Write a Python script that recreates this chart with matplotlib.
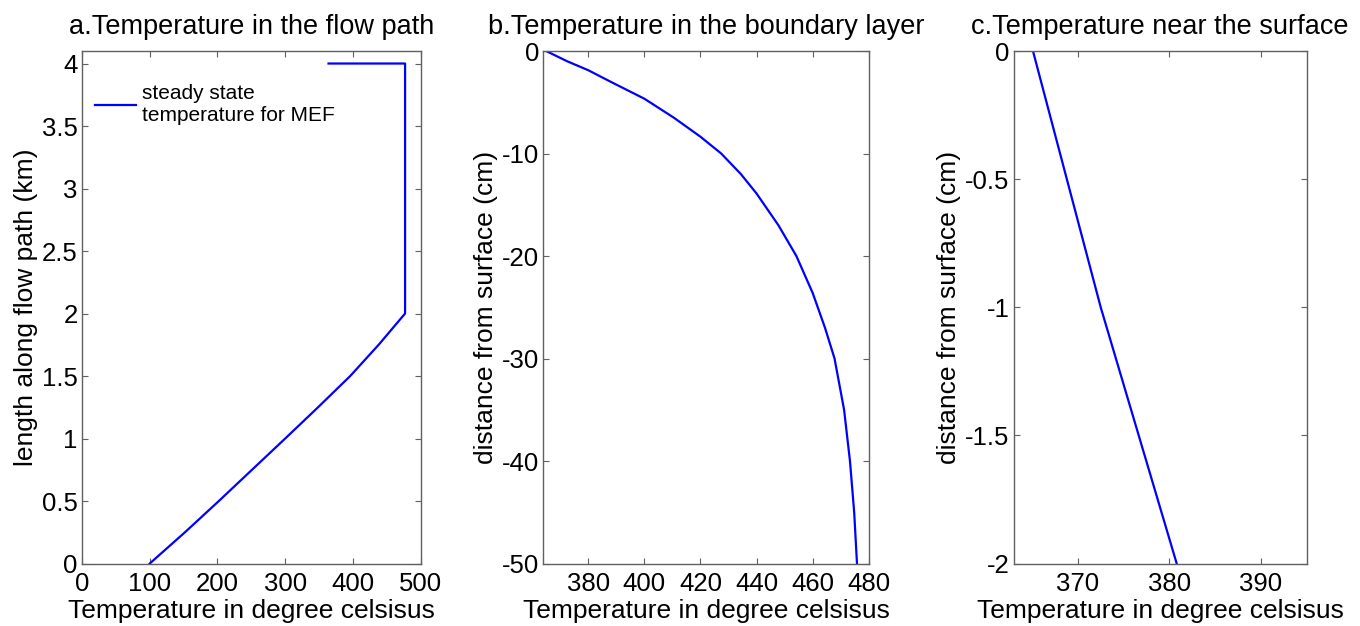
import matplotlib
matplotlib.use("Agg")
import matplotlib.pyplot as plt

# ---- data ----
length_a = [0, 0.25, 0.5, 0.75, 1.0, 1.25, 1.5, 1.75, 2.0, 4.0, 4.0]
temp_a = [100, 152, 202, 251, 300, 348.5, 396, 438, 477, 477, 364]

depth_b = [0, -1, -1.87, -3, -4.65, -6.5, -8.36, -10, -12, -13.9, -17, -20,
           -23.6, -27, -30, -35, -40, -45, -50]
temp_b = [365, 372.5, 380, 388, 400, 410.5, 420, 427.4, 434.4, 440, 447.8, 454.2,
          460, 464.4, 467.8, 471.2, 473.3, 474.8, 475.8]

depth_c = [0, -1, -2]
temp_c = [365.1, 372.5, 380.8]

xticks_a = [0, 100, 200, 300, 400, 500]
yticks_a = [0, 0.5, 1, 1.5, 2, 2.5, 3, 3.5, 4]
ylabels_a = ["0", "0.5", "1", "1.5", "2", "2.5", "3", "3.5", "4"]
xticks_b = [380, 400, 420, 440, 460, 480]
yticks_b = [0, -10, -20, -30, -40, -50]
xticks_c = [370, 380, 390]
yticks_c = [0, -0.5, -1, -1.5, -2]
ylabels_c = ["0", "-0.5", "-1", "-1.5", "-2"]

titles = ["a.Temperature in the flow path",
          "b.Temperature in the boundary layer",
          "c.Temperature near the surface"]
xlabel = "Temperature in degree celsisus"
ylabel_a = "length along flow path (km)"
ylabel_bc = "distance from surface (cm)"
legend_label = "steady state\ntemperature for MEF"

plt.rcParams['font.family'] = ['Liberation Sans', 'DejaVu Sans']
plt.rcParams['axes.unicode_minus'] = False

fig = plt.figure(figsize=(13.6, 6.26), dpi=100)
bottom = 0.0998
height = 0.8187
ax_a = fig.add_axes([0.0603, bottom, 0.2490, height])
ax_b = fig.add_axes([0.3995, bottom, 0.2393, height])
ax_c = fig.add_axes([0.7454, bottom, 0.2154, height])

FS = 18.5
LFS = 19
TFS = 19.5
LC = (0, 0, 1)
spine_c = '#606060'

def style(ax):
    for s in ax.spines.values():
        s.set_color(spine_c)
        s.set_linewidth(1.0)
    ax.tick_params(direction='in', length=4, width=0.8, color=spine_c,
                   top=True, right=True, labelsize=FS)
    ax.tick_params(axis='x', pad=6)
    ax.tick_params(axis='y', pad=3)

ax_a.plot(temp_a, length_a, color=LC, lw=1.6, label=legend_label)
ax_a.set_xlim(0, 500)
ax_a.set_ylim(0, 4.1)
ax_a.set_xticks(xticks_a)
ax_a.set_yticks(yticks_a)
ax_a.set_yticklabels(ylabels_a)
ax_a.set_xlabel(xlabel, fontsize=LFS, labelpad=2)
ax_a.set_ylabel(ylabel_a, fontsize=LFS, labelpad=3)
ax_a.set_title(titles[0], fontsize=TFS, pad=12)
ax_a.legend(loc='upper left', bbox_to_anchor=(0.0, 0.96), frameon=False,
            fontsize=15, handlelength=2.0, handletextpad=0.3,
            borderaxespad=0.2, labelspacing=0.2)
style(ax_a)

ax_b.plot(temp_b, depth_b, color=LC, lw=1.6)
ax_b.set_xlim(364, 480)
ax_b.set_ylim(-50, 0)
ax_b.set_xticks(xticks_b)
ax_b.set_yticks(yticks_b)
ax_b.set_xlabel(xlabel, fontsize=LFS, labelpad=2)
ax_b.set_ylabel(ylabel_bc, fontsize=LFS, labelpad=3)
ax_b.set_title(titles[1], fontsize=TFS, pad=12)
style(ax_b)

ax_c.plot(temp_c, depth_c, color=LC, lw=1.6)
ax_c.set_xlim(363, 395)
ax_c.set_ylim(-2, 0)
ax_c.set_xticks(xticks_c)
ax_c.set_yticks(yticks_c)
ax_c.set_yticklabels(ylabels_c)
ax_c.set_xlabel(xlabel, fontsize=LFS, labelpad=2)
ax_c.set_ylabel(ylabel_bc, fontsize=LFS, labelpad=3)
ax_c.set_title(titles[2], fontsize=TFS, pad=12)
style(ax_c)

fig.savefig("out.png", dpi=100)
